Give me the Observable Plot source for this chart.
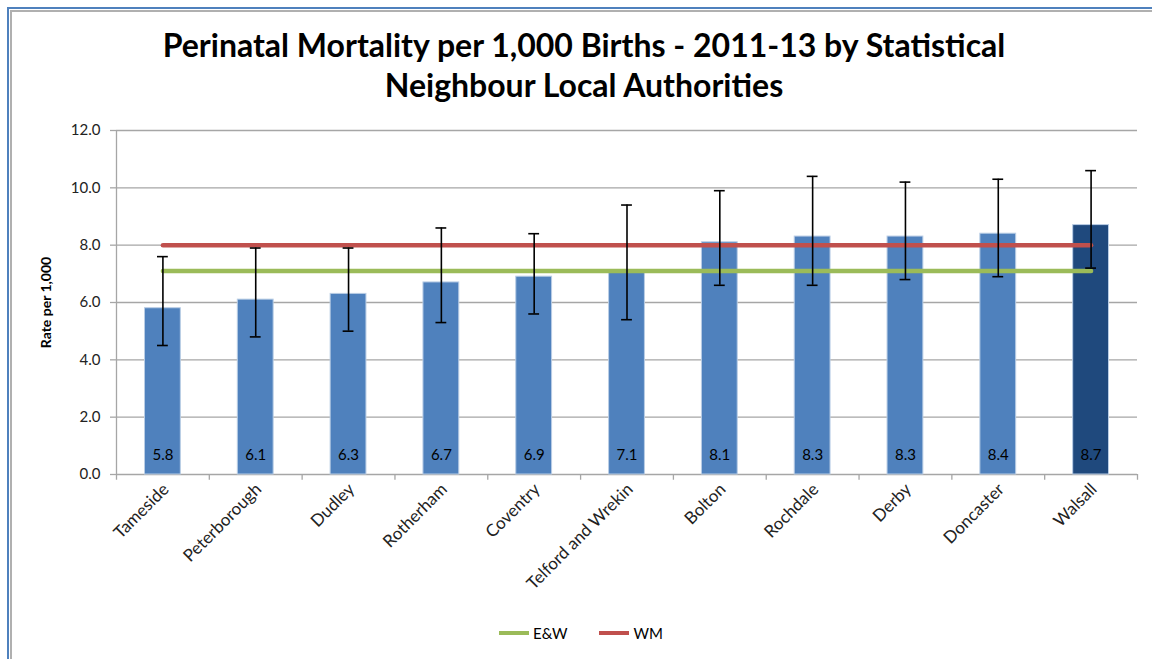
<!DOCTYPE html>
<html>
<head>
<meta charset="utf-8">
<script src="https://cdn.jsdelivr.net/npm/d3@7"></script>
<script src="https://cdn.jsdelivr.net/npm/@observablehq/plot@0.6"></script>
<style>
  html, body { margin: 0; padding: 0; background: #fff; }
  body { width: 1152px; height: 659px; position: relative; overflow: hidden; font-family: Lato, "Open Sans", sans-serif; }
  #frame1 { position: absolute; left: 7px; top: 7px; right: -10px; bottom: -10px; border-left: 2px solid #4F81BD; border-top: 2px solid #4F81BD; }
  #frame2 { position: absolute; left: 10px; top: 10px; right: -10px; bottom: -10px; border-left: 2px solid #b0b0b0; border-top: 2px solid #b0b0b0; }
  #title { position: absolute; left: 0; top: 25px; width: 1168px; text-align: center; font-weight: bold; font-size: 32px; line-height: 40px; color: #000; }
  #chart { position: absolute; left: 0; top: 115px; }
  #legend { position: absolute; top: 624px; left: 0; width: 1152px; display: flex; justify-content: center; align-items: center; font-size: 15px; color: #000; padding-left: 10px; box-sizing: border-box; }
  .sw { display: inline-block; width: 30px; height: 4px; margin-right: 4px; }
  .item { display: inline-flex; align-items: center; margin: 0 16px; }
</style>
</head>
<body>
<div id="frame1"></div>
<div id="frame2"></div>
<div id="title">Perinatal Mortality per 1,000 Births - 2011-13 by Statistical<br>Neighbour Local Authorities</div>
<div id="chart"></div>
<div id="legend"></div>
<script>
const categories = ["Tameside","Peterborough","Dudley","Rotherham","Coventry","Telford and Wrekin","Bolton","Rochdale","Derby","Doncaster","Walsall"];
const rates = [5.8, 6.1, 6.3, 6.7, 6.9, 7.1, 8.1, 8.3, 8.3, 8.4, 8.7];
const lowerCI = [4.5, 4.8, 5.0, 5.3, 5.6, 5.4, 6.6, 6.6, 6.8, 6.9, 7.2];
const upperCI = [7.6, 7.9, 7.9, 8.6, 8.4, 9.4, 9.9, 10.4, 10.2, 10.3, 10.6];
const ewRate = 7.1;
const wmRate = 8.0;
const yTicks = [0, 2, 4, 6, 8, 10, 12];
const highlight = "Walsall";

const data = categories.map((name, i) => ({name, rate: rates[i], lo: lowerCI[i], hi: upperCI[i]}));
const refLines = [
  {key: "E&W", value: ewRate, color: "#9BBB59"},
  {key: "WM", value: wmRate, color: "#C0504D"}
];

const W = 1152, H = 500;
const mL = 116, mR = 15, mT = 15, mB = 141;
const bw = (W - mL - mR) / categories.length;
const grid = "#a6a6a6";

const chart = Plot.plot({
  width: W, height: H,
  marginLeft: mL, marginRight: mR, marginTop: mT, marginBottom: mB,
  style: {fontFamily: "Lato, 'Open Sans', sans-serif", fontSize: "14px", color: "#000", background: "transparent"},
  x: {domain: categories, padding: 0, round: false, label: null},
  y: {domain: [0, 12], label: null},
  marks: [
    Plot.ruleY(yTicks, {stroke: grid, strokeWidth: 1.3}),
    Plot.ruleX([categories[0]], {x: d => d, y1: 0, y2: 12, dx: -bw / 2, stroke: grid, strokeWidth: 1.3}),
    Plot.ruleX(categories, {x: d => d, y1: 0, y2: -0.2, dx: -bw / 2, stroke: grid, strokeWidth: 1.3}),
    Plot.ruleX([categories[categories.length - 1]], {x: d => d, y1: 0, y2: -0.2, dx: bw / 2, stroke: grid, strokeWidth: 1.3}),
    Plot.axisY({ticks: yTicks, tickFormat: d => d.toFixed(1), tickSize: 6, tickPadding: 10, stroke: grid, strokeWidth: 1.3, fill: "#222", fontSize: 15}),
    Plot.text(["Rate per 1,000"], {frameAnchor: "left", textAnchor: "middle", dx: -70, rotate: -90, fontWeight: "bold", fontSize: 14, text: d => d}),
    Plot.axisX({tickSize: 0, tickRotate: -45, textAnchor: "end", tickPadding: 12, fontSize: 17, fill: "#222", dx: 3}),
    Plot.barY(data, {x: "name", y: "rate", fill: d => d.name === highlight ? "#1F497D" : "#4F81BD", stroke: "#b9cde5", strokeWidth: 1, insetLeft: 28.5, insetRight: 28.5}),
    ...refLines.map(r => Plot.lineY(categories, {x: d => d, y: () => r.value, stroke: r.color, strokeWidth: 4.5})),
    Plot.ruleX(data, {x: "name", y1: "lo", y2: "hi", stroke: "#000", strokeWidth: 1.6}),
    Plot.tickY(data, {x: "name", y: "hi", stroke: "#000", strokeWidth: 1.6, insetLeft: 41, insetRight: 41}),
    Plot.tickY(data, {x: "name", y: "lo", stroke: "#000", strokeWidth: 1.6, insetLeft: 41, insetRight: 41}),
    Plot.text(data, {x: "name", y: 0, text: d => d.rate.toFixed(1), dy: -19, fill: "#000", fontSize: 15})
  ]
});
document.getElementById("chart").appendChild(chart);

const legend = document.getElementById("legend");
refLines.forEach(r => {
  const item = document.createElement("span");
  item.className = "item";
  const sw = document.createElement("span");
  sw.className = "sw";
  sw.style.background = r.color;
  item.appendChild(sw);
  item.appendChild(document.createTextNode(r.key));
  legend.appendChild(item);
});
</script>
</body>
</html>
